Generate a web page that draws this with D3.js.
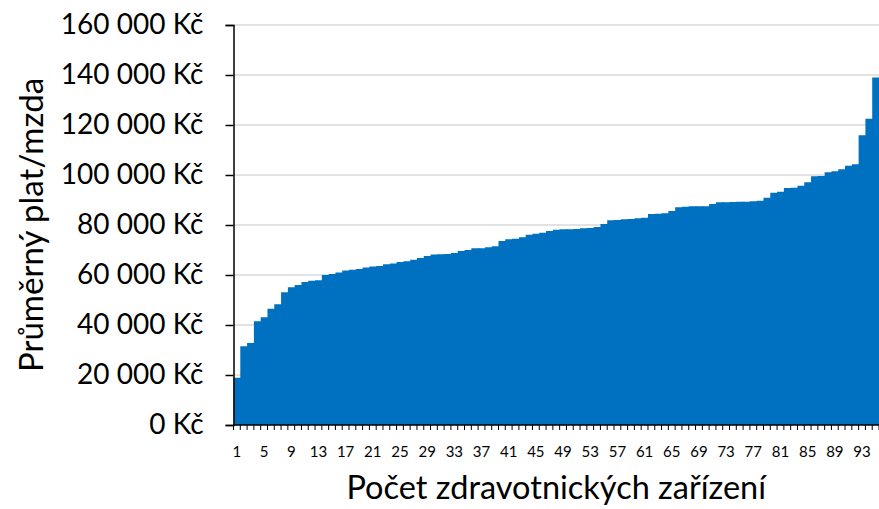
<!DOCTYPE html>
<html>
<head>
<meta charset="utf-8">
<script src="https://cdnjs.cloudflare.com/ajax/libs/d3/7.8.5/d3.min.js"></script>
<style>
  body { margin: 0; background: #ffffff; }
  text { font-family: Lato, "Noto Sans", sans-serif; fill: #000000; }
</style>
</head>
<body>
<div id="chart"></div>
<script>
// Average salary per facility, sorted ascending
var salaries = [
  18900, 31500, 32800, 41500, 43100, 46500, 48300, 53100, 55100, 56000,
  57200, 57700, 57900, 60000, 60400, 61000, 61800, 62100, 62400, 63000,
  63400, 63600, 64300, 64600, 65200, 65500, 66100, 66800, 67600, 68200,
  68300, 68400, 68800, 69600, 70000, 70700, 70700, 71100, 71500, 73600,
  74300, 74500, 75100, 76100, 76500, 76900, 77600, 78100, 78300, 78300,
  78400, 78700, 78800, 79200, 80400, 81900, 82000, 82300, 82400, 82700,
  82900, 84400, 84500, 84700, 85600, 87100, 87300, 87500, 87500, 87500,
  88400, 89100, 89100, 89200, 89300, 89300, 89500, 89700, 90900, 92900,
  93300, 94800, 94900, 95700, 97100, 99500, 99600, 101100, 101500, 102300,
  103700, 104300, 115900, 122500, 139000
];

// Facility numbers 1..n, one per bar
var facilities = salaries.map(function(d, i) { return i + 1; });

var xTickLabels = [1, 5, 9, 13, 17, 21, 25, 29, 33, 37, 41, 45, 49, 53, 57, 61, 65, 69, 73, 77, 81, 85, 89, 93];
var yTickValues = [0, 20000, 40000, 60000, 80000, 100000, 120000, 140000, 160000];

var svgWidth = 879;
var svgHeight = 509;

var margin = { top: 25, right: 0, bottom: 84, left: 233.5 };
var width = svgWidth - margin.left - margin.right;
var height = svgHeight - margin.top - margin.bottom;

var czk = d3.formatLocale({ decimal: ",", thousands: " ", grouping: [3], currency: ["", " Kč"] });
var fmt = czk.format("$,.0f");

var svg = d3.select("#chart")
  .append("svg")
  .attr("width", svgWidth)
  .attr("height", svgHeight);

svg.append("rect")
  .attr("width", svgWidth)
  .attr("height", svgHeight)
  .attr("fill", "#ffffff");

var chartGroup = svg.append("g")
  .attr("transform", `translate(${margin.left}, ${margin.top})`);

var xScale = d3.scaleBand()
  .domain(facilities)
  .range([0, width])
  .padding(0);

var yScale = d3.scaleLinear()
  .domain([0, 160000])
  .range([height, 0]);

// gridlines
chartGroup.append("g")
  .selectAll("line")
  .data(yTickValues.filter(d => d > 0))
  .enter()
  .append("line")
  .attr("x1", 0)
  .attr("x2", width)
  .attr("y1", d => yScale(d))
  .attr("y2", d => yScale(d))
  .attr("stroke", "#d9d9d9")
  .attr("stroke-width", 1.5);

// bars - a little overlap so no seams show (next bar is always taller)
chartGroup.append("g")
  .selectAll("rect")
  .data(salaries)
  .enter()
  .append("rect")
  .attr("x", (d, i) => xScale(facilities[i]))
  .attr("width", (d, i) => i < salaries.length - 1 ? xScale.bandwidth() + 1 : xScale.bandwidth())
  .attr("y", d => yScale(d))
  .attr("height", d => height - yScale(d))
  .attr("fill", "#0070c0");

// y axis
var leftAxis = d3.axisLeft(yScale)
  .tickValues(yTickValues)
  .tickSize(8)
  .tickPadding(22)
  .tickFormat(fmt);

var yAxis = chartGroup.append("g")
  .classed("y-axis", true)
  .call(leftAxis);

yAxis.select(".domain").attr("stroke", "#000").attr("stroke-width", 1.5);
yAxis.selectAll(".tick line").attr("stroke", "#000").attr("stroke-width", 1.5);
yAxis.selectAll(".tick text")
  .attr("font-family", "Lato, 'Noto Sans', sans-serif")
  .attr("font-size", "28px")
  .attr("fill", "#000");

// x axis: labels every 4th facility, tick marks on every bar boundary
var bottomAxis = d3.axisBottom(xScale)
  .tickValues(xTickLabels)
  .tickSize(0)
  .tickPadding(21);

var xAxis = chartGroup.append("g")
  .classed("x-axis", true)
  .attr("transform", `translate(0, ${height})`)
  .call(bottomAxis);

xAxis.select(".domain").remove();
xAxis.selectAll(".tick text")
  .attr("font-family", "Lato, 'Noto Sans', sans-serif")
  .attr("font-size", "15px")
  .attr("fill", "#000");

xAxis.append("g")
  .selectAll("line")
  .data(facilities.concat([null]))
  .enter()
  .append("line")
  .attr("x1", d => d === null ? width : xScale(d))
  .attr("x2", d => d === null ? width : xScale(d))
  .attr("y1", 0)
  .attr("y2", 5)
  .attr("stroke", "#000")
  .attr("stroke-width", 1);

xAxis.append("line")
  .attr("x1", 0)
  .attr("x2", width)
  .attr("y1", 0)
  .attr("y2", 0)
  .attr("stroke", "#000")
  .attr("stroke-width", 1.5);

// axis titles
chartGroup.append("text")
  .attr("transform", `translate(${43 - margin.left}, ${height / 2}) rotate(-90)`)
  .attr("text-anchor", "middle")
  .attr("font-size", "33px")
  .text("Průměrný plat/mzda");

chartGroup.append("text")
  .attr("x", width / 2)
  .attr("y", height + 74)
  .attr("text-anchor", "middle")
  .attr("font-size", "32.5px")
  .text("Počet zdravotnických zařízení");
</script>
</body>
</html>
